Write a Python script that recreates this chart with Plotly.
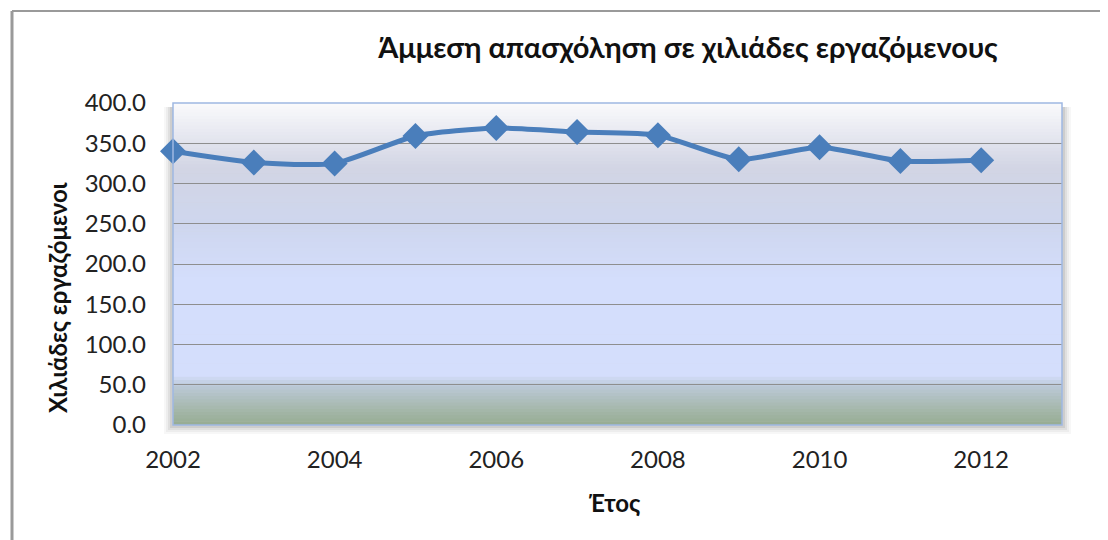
import plotly.graph_objects as go

# data
years = [2002, 2003, 2004, 2005, 2006, 2007, 2008, 2009, 2010, 2011, 2012]
employment = [340, 326, 325, 359, 369, 364, 360, 330, 345, 328, 329]

title = "Άμμεση απασχόληση σε χιλιάδες εργαζόμενους"
x_title = "Έτος"
y_title = "Χιλιάδες εργαζόμενοι"

FONT = "Lato, 'Open Sans', sans-serif"

# page offset of the figure (body margin) and plot area in screen pixels
OFF = 8
L, R, T, B = 173, 1062, 103, 425
W, H = R - L, B - T


def px(x):
    return (x - L) / W


def py(y):
    return (B - y) / H


def lerp(c1, c2, t):
    return tuple(round(a + (b - a) * t) for a, b in zip(c1, c2))


# gradient stops (fraction of plot height from bottom, rgb)
stops = [
    (0.00, (150, 172, 146)),
    (0.05, (166, 184, 172)),
    (0.12, (186, 200, 214)),
    (0.155, (212, 222, 252)),
    (0.45, (212, 222, 252)),
    (0.62, (206, 214, 238)),
    (0.80, (210, 213, 228)),
    (1.00, (250, 250, 252)),
]


def grad_color(f):
    for (f0, c0), (f1, c1) in zip(stops[:-1], stops[1:]):
        if f0 <= f <= f1:
            return lerp(c0, c1, (f - f0) / (f1 - f0))
    return stops[-1][1]


shapes = []

# soft shadow around plot area
for d, a in [(9, 0.03), (7, 0.04), (5, 0.06), (3, 0.08)]:
    shapes.append(dict(type="rect", xref="paper", yref="paper",
                       x0=-d / W, x1=1 + d / W, y0=-d / H, y1=1 - 4 / H,
                       layer="below", line=dict(width=0),
                       fillcolor="rgba(0,0,0,%.2f)" % a))

n = 100
for i in range(n):
    y0 = i / n
    y1 = (i + 1) / n
    c = grad_color((y0 + y1) / 2)
    shapes.append(dict(type="rect", xref="x domain", yref="y domain",
                       x0=0, x1=1, y0=y0, y1=min(1, y1 + 0.002), layer="below",
                       line=dict(width=0), fillcolor="rgb(%d,%d,%d)" % c))

# plot frame
shapes.append(dict(type="rect", xref="x domain", yref="y domain",
                   x0=0, x1=1, y0=0, y1=1, layer="above",
                   line=dict(color="#9fb8e2", width=1.5)))
# outer chart border
shapes.append(dict(type="line", xref="paper", yref="paper",
                   x0=px(12), x1=px(1120), y0=py(11), y1=py(11),
                   line=dict(color="#9a9a9a", width=2)))
shapes.append(dict(type="line", xref="paper", yref="paper",
                   x0=px(12), x1=px(12), y0=py(11), y1=py(550),
                   line=dict(color="#9a9a9a", width=3)))

fig = go.Figure()
fig.add_trace(go.Scatter(
    x=years, y=employment,
    mode="lines+markers",
    line=dict(color="#4a7ebb", width=5, shape="spline", smoothing=0.6),
    marker=dict(symbol="diamond", size=20, color="#4a7ebb"),
    cliponaxis=False,
    showlegend=False,
))

fig.update_layout(
    width=1108, height=540,
    margin=dict(l=L - OFF, r=1108 - R + OFF, t=T - OFF, b=540 - B + OFF,
                autoexpand=False),
    paper_bgcolor="white",
    plot_bgcolor="rgba(0,0,0,0)",
    font=dict(family=FONT, size=24, color="#222222"),
    title=dict(text="<b>" + title + "</b>", x=(688 - OFF) / 1108,
               xanchor="center", y=1 - (48 - OFF) / 540, yanchor="middle",
               font=dict(family=FONT, size=29, color="#111111")),
    shapes=shapes,
    annotations=[
        dict(text="<b>" + x_title + "</b>", xref="paper", yref="paper",
             x=px(614), y=py(502), xanchor="center", yanchor="middle",
             showarrow=False, font=dict(size=24, color="#111111")),
        dict(text="<b>" + y_title + "</b>", xref="paper", yref="paper",
             x=px(57), y=py(298), xanchor="center", yanchor="middle",
             textangle=-90, showarrow=False,
             font=dict(size=24, color="#111111")),
    ],
)
fig.update_xaxes(
    range=[2002, 2013], tickvals=[2002, 2004, 2006, 2008, 2010, 2012],
    showgrid=False, zeroline=False, showline=False, ticks="",
    ticklabelstandoff=18, automargin=False,
)
fig.update_yaxes(
    range=[0, 400], dtick=50, tickformat=".1f",
    showgrid=True, gridcolor="#8e8e8e", gridwidth=1.2,
    zeroline=False, showline=False, ticks="",
    ticklabelstandoff=26, automargin=False,
)

fig.write_html("out.html")
